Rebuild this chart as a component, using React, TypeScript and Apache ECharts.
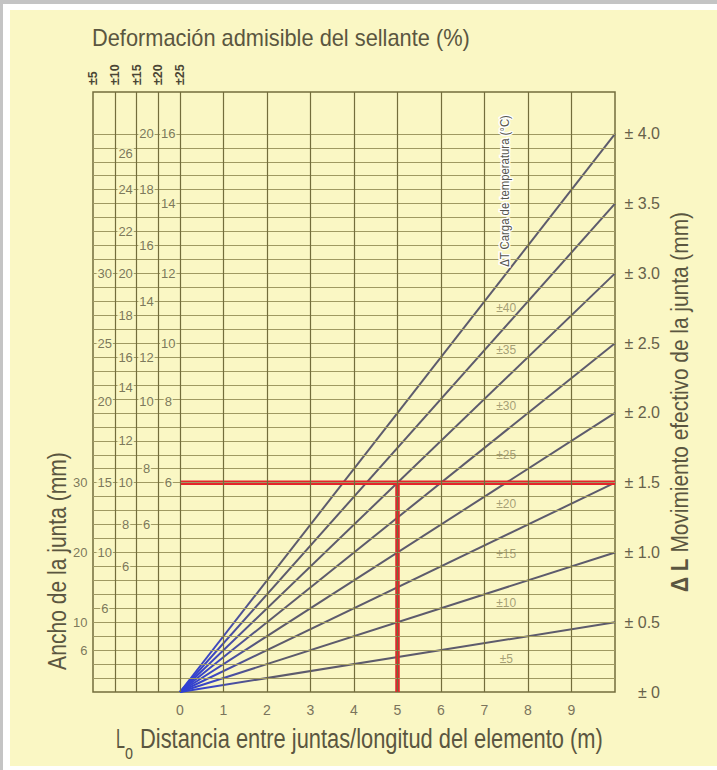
import { useEffect, useRef } from 'react';
import * as echarts from 'echarts';

// ---- data ----
const distanceTickLabels = ['0', '1', '2', '3', '4', '5', '6', '7', '8', '9'];
const movementAt10m = [0.5, 1.0, 1.5, 2.0, 2.5, 3.0, 3.5, 4.0];
const movementTickValues = [0, 0.5, 1.0, 1.5, 2.0, 2.5, 3.0, 3.5, 4.0];
const movementTickLabels = ['± 0', '± 0.5', '± 1.0', '± 1.5', '± 2.0', '± 2.5', '± 3.0', '± 3.5', '± 4.0'];
const deformationX = [-2, -1.5, -1, -0.5, 0];
const deformationLabels = ['±5', '±10', '±15', '±20', '±25'];
const temperatureLabels = ['±5', '±10', '±15', '±20', '±25', '±30', '±35', '±40'];
const temperatureLabelY = [0.24, 0.64, 0.99, 1.35, 1.7, 2.05, 2.45, 2.75];
const temperatureLabelX = 7.5;

// joint width scales (mm) for each admissible deformation column
const width5Labels = ['30', '20', '10', '6'];
const width5Y = [1.5, 1.0, 0.5, 0.3];
const width10Labels = ['30', '25', '20', '15', '10', '6'];
const width10Y = [3.0, 2.5, 2.08, 1.5, 1.0, 0.6];
const width15Labels = ['26', '24', '22', '20', '18', '16', '14', '12', '10', '8', '6'];
const width15Y = [3.86, 3.6, 3.3, 3.0, 2.7, 2.4, 2.18, 1.8, 1.5, 1.2, 0.9];
const width20Labels = ['20', '18', '16', '14', '12', '10', '8', '6'];
const width20Y = [4.0, 3.6, 3.2, 2.8, 2.4, 2.08, 1.6, 1.2];
const width25Labels = ['16', '14', '12', '10', '8', '6'];
const width25Y = [4.0, 3.5, 3.0, 2.5, 2.08, 1.5];

const exampleDistance = 5;
const exampleMovement = 1.5;

const verticalGrid = [-1.5, -1, -0.5, 0, 1, 2, 3, 4, 5, 6, 7, 8, 9];
const horizontalGrid = Array.from({ length: 40 }, (_, i) => (i + 1) / 10);

// ---- style ----
const FONT = "'Liberation Sans', Arial, sans-serif";
const BG = '#faf7c4';
const TEXT = '#5a5640';
const GRID_V = '#736d3c';
const GRID_H = '#9f9962';
const FAN = '#5d5b6c';
const RED = '#e3252b';

let measureCtx: CanvasRenderingContext2D | null = null;
function measure(text: string, size: number, weight = 'normal') {
  if (!measureCtx) measureCtx = document.createElement('canvas').getContext('2d');
  if (!measureCtx) return text.length * size * 0.5;
  measureCtx.font = `${weight} ${size}px ${FONT}`;
  return measureCtx.measureText(text).width;
}

function fittedText(
  text: string,
  size: number,
  target: number,
  x: number,
  y: number,
  align: 'left' | 'center',
  rotated = false,
  fill = TEXT
) {
  const w = measure(text, size);
  return {
    type: 'text',
    z: 60,
    x,
    y,
    rotation: rotated ? Math.PI / 2 : 0,
    scaleX: target / w,
    style: { text, fontFamily: FONT, fontSize: size, fill, align, verticalAlign: 'middle' },
  };
}

function labelSeries(labels: string[], ys: number[], x: number, outer = false) {
  return {
    type: 'scatter',
    symbolSize: 1,
    itemStyle: { color: 'rgba(0,0,0,0)' },
    silent: true,
    z: 6,
    data: labels.map((l, i) => [x, ys[i], l]),
    label: {
      show: true,
      position: outer ? 'left' : 'inside',
      distance: 4,
      formatter: (p: any) => p.data[2],
      fontFamily: FONT,
      fontSize: 13,
      color: TEXT,
      backgroundColor: outer ? 'transparent' : BG,
      padding: [0, 1],
    },
  };
}

export default function App() {
  const ref = useRef<HTMLDivElement>(null);
  useEffect(() => {
    const chart = echarts.init(ref.current!, null, { renderer: 'svg' });
    const fanGradient = () =>
      new echarts.graphic.LinearGradient(0, 0, 1, 0, [
        { offset: 0, color: '#2e3fd6' },
        { offset: 0.08, color: '#3e48c0' },
        { offset: 0.2, color: FAN },
        { offset: 1, color: FAN },
      ]);

    const rightRest = ' Movimiento efectivo de la junta (mm)';
    const rightW = measure('Δ L', 23, 'bold') + measure(rightRest, 23);
    const tempTitle = 'ΔT Carga de temperatura (°C)';

    const option: any = {
      animation: false,
      backgroundColor: BG,
      grid: {
        left: 93,
        right: 102,
        top: 92,
        bottom: 78,
        show: true,
        borderColor: GRID_V,
        borderWidth: 1.5,
        backgroundColor: 'transparent',
      },
      xAxis: [
        {
          type: 'value',
          min: -2,
          max: 10,
          interval: 1,
          axisLine: { show: false },
          axisTick: { show: false },
          splitLine: { show: false },
          axisLabel: {
            margin: 11,
            fontFamily: FONT,
            fontSize: 14,
            color: '#7a745c',
            formatter: (v: number) => {
              const r = Math.round(v);
              return v >= 0 && Math.abs(v - r) < 1e-6 && r < distanceTickLabels.length ? distanceTickLabels[r] : '';
            },
          },
        },
        {
          type: 'value',
          position: 'top',
          min: -2,
          max: 10,
          interval: 0.5,
          axisLine: { show: false },
          axisTick: { show: false },
          splitLine: { show: false },
          axisLabel: {
            rotate: 90,
            margin: 7,
            fontFamily: FONT,
            fontSize: 12.5,
            fontWeight: 'bold',
            color: '#4a4634',
            formatter: (v: number) => {
              const i = deformationX.findIndex((d) => Math.abs(d - v) < 1e-6);
              return i >= 0 ? deformationLabels[i] : '';
            },
          },
        },
      ],
      yAxis: [
        { type: 'value', min: 0, max: 4.3, show: false },
        {
          type: 'value',
          position: 'right',
          min: 0,
          max: 4.3,
          interval: 0.5,
          axisLine: { show: false },
          axisTick: { show: false },
          splitLine: { show: false },
          axisLabel: {
            margin: 45,
            align: 'right',
            fontFamily: FONT,
            fontSize: 16,
            color: '#66614a',
            formatter: (v: number) => {
              const i = movementTickValues.findIndex((d) => Math.abs(d - v) < 1e-6);
              return i >= 0 ? movementTickLabels[i] : '';
            },
          },
        },
      ],
      series: [
        {
          type: 'line',
          data: [],
          silent: true,
          z: 1,
          markLine: {
            silent: true,
            symbol: 'none',
            label: { show: false },
            lineStyle: { type: 'solid', color: GRID_H, width: 1 },
            emphasis: { disabled: true },
            data: horizontalGrid.map((v) => ({ yAxis: v })),
          },
        },
        {
          type: 'line',
          data: [],
          silent: true,
          z: 1,
          markLine: {
            silent: true,
            symbol: 'none',
            label: { show: false },
            lineStyle: { type: 'solid', color: GRID_V, width: 1.2 },
            emphasis: { disabled: true },
            data: verticalGrid.map((v) => ({ xAxis: v })),
          },
        },
        ...movementAt10m.map((m) => ({
          type: 'line',
          silent: true,
          symbol: 'none',
          z: 3,
          data: [
            [0, 0],
            [10, m],
          ],
          lineStyle: { width: 2, color: fanGradient() },
        })),
        {
          type: 'line',
          silent: true,
          symbol: 'none',
          z: 4,
          data: [
            [0, exampleMovement],
            [10, exampleMovement],
          ],
          lineStyle: { width: 4.5, color: RED },
        },
        {
          type: 'line',
          silent: true,
          symbol: 'none',
          z: 4,
          data: [
            [exampleDistance, 0],
            [exampleDistance, exampleMovement],
          ],
          lineStyle: { width: 4.5, color: RED },
        },
        labelSeries(width5Labels, width5Y, -2, true),
        labelSeries(width10Labels, width10Y, -1.73),
        labelSeries(width15Labels, width15Y, -1.25),
        labelSeries(width20Labels, width20Y, -0.77),
        labelSeries(width25Labels, width25Y, -0.27),
        {
          type: 'scatter',
          symbolSize: 1,
          itemStyle: { color: 'rgba(0,0,0,0)' },
          silent: true,
          z: 6,
          data: temperatureLabels.map((l, i) => [temperatureLabelX, temperatureLabelY[i], l]),
          label: {
            show: true,
            position: 'inside',
            formatter: (p: any) => p.data[2],
            fontFamily: FONT,
            fontSize: 12,
            color: '#8f8860',
          },
        },
      ],
      graphic: [
        { type: 'rect', z: 50, shape: { x: 0, y: 0, width: 717, height: 4 }, style: { fill: '#c4c4c4' } },
        { type: 'rect', z: 50, shape: { x: 0, y: 0, width: 3, height: 770 }, style: { fill: '#c4c4c4' } },
        { type: 'rect', z: 50, shape: { x: 3, y: 4, width: 714, height: 6 }, style: { fill: '#ffffff' } },
        { type: 'rect', z: 50, shape: { x: 3, y: 4, width: 7, height: 766 }, style: { fill: '#ffffff' } },
        { type: 'rect', z: 50, shape: { x: 3, y: 766, width: 714, height: 4 }, style: { fill: '#ffffff' } },
        fittedText('Deformación admisible del sellante (%)', 23, 378, 92, 38, 'left'),
        fittedText('L', 27, 9, 116, 739, 'left'),
        fittedText('o', 20, 8, 125, 752, 'left'),
        fittedText('Distancia entre juntas/longitud del elemento (m)', 27, 463, 140, 739, 'left'),
        fittedText('Ancho de la junta (mm)', 25, 218, 57, 561, 'center', true),
        {
          type: 'text',
          z: 60,
          x: 680,
          y: 402,
          rotation: Math.PI / 2,
          scaleX: 380 / rightW,
          style: {
            text: '{b|Δ L}' + rightRest,
            fontFamily: FONT,
            fontSize: 23,
            fill: TEXT,
            align: 'center',
            verticalAlign: 'middle',
            rich: { b: { fontFamily: FONT, fontSize: 23, fontWeight: 'bold', fill: TEXT } },
          },
        },
        {
          type: 'text',
          z: 60,
          x: 505,
          y: 191,
          rotation: Math.PI / 2,
          scaleX: 152 / measure(tempTitle, 13),
          style: {
            text: tempTitle,
            fontFamily: FONT,
            fontSize: 13,
            fill: '#55554e',
            stroke: '#ffffff',
            lineWidth: 3,
            align: 'center',
            verticalAlign: 'middle',
          },
        },
      ],
    };
    chart.setOption(option);
    return () => chart.dispose();
  }, []);
  return <div ref={ref} style={{ position: 'fixed', left: 0, top: 0, width: 717, height: 770 }} />;
}
